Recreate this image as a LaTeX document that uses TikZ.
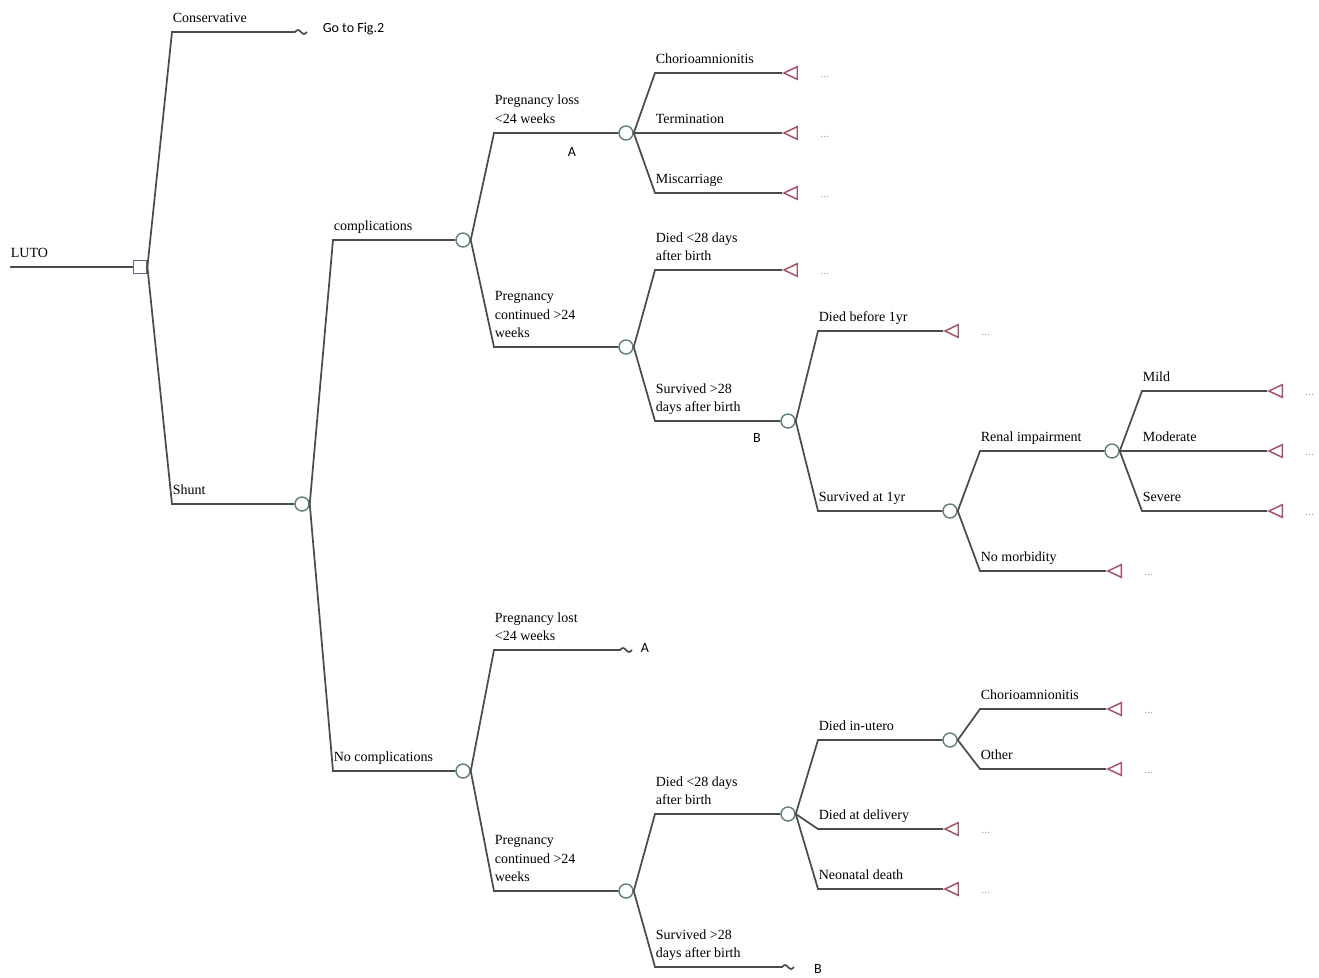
\documentclass[tikz,border=0pt]{standalone}
\usepackage{fontspec}
\setmainfont{Liberation Serif}
\newfontfamily\refont{Carlito}
\usetikzlibrary{shapes.geometric}
\definecolor{branchgray}{RGB}{75,75,75}
\definecolor{chancegreen}{RGB}{100,130,115}
\definecolor{decisionblue}{RGB}{90,105,130}
\definecolor{termred}{RGB}{165,80,100}
\begin{document}
\begin{tikzpicture}[x=0.75pt, y=-0.75pt, line width=1.3pt, draw=branchgray,
  chance/.style={circle,draw=chancegreen,fill=white,line width=1.1pt,minimum size=10.5pt,inner sep=0pt},
  decision/.style={rectangle,draw=decisionblue,fill=white,line width=1.1pt,minimum size=10pt,inner sep=0pt},
  term/.style={isosceles triangle,isosceles triangle stretches,shape border rotate=180,draw=termred,line width=1.1pt,minimum height=10pt,minimum width=9.5pt,inner sep=0pt,anchor=apex},
  lab/.style={anchor=base west,inner sep=0pt,align=left,yshift=7pt,font=\fontsize{10.5}{14}\selectfont},
  dots/.style={text=gray!75,inner sep=0pt,font=\fontsize{8.5}{9}\selectfont},
  refl/.style={inner sep=0pt,font=\refont\fontsize{10.5}{12}\selectfont}]
\useasboundingbox (0,0) rectangle (1319,977);
% corners of the branches
\coordinate (luto) at (10,267);
\coordinate (cCons) at (172,32);
\coordinate (cConsEnd) at (295,32);
\coordinate (cShunt) at (172,504);
\coordinate (cComp) at (333,240);
\coordinate (cNoComp) at (333,771);
\coordinate (cLoss) at (494,133);
\coordinate (cCont) at (494,347);
\coordinate (cChorio) at (655,73);
\coordinate (cTerm) at (655,133);
\coordinate (cMisc) at (655,193);
\coordinate (cDied) at (655,270);
\coordinate (cSurv) at (655,421);
\coordinate (cDied1yr) at (818,331);
\coordinate (cSurv1yr) at (818,511);
\coordinate (cRenal) at (980,451);
\coordinate (cNoMorb) at (980,571);
\coordinate (cMild) at (1142,391);
\coordinate (cMod) at (1142,451);
\coordinate (cSev) at (1142,511);
\coordinate (cLost) at (494,650);
\coordinate (cLostEnd) at (620,650);
\coordinate (cContB) at (494,891);
\coordinate (cDiedB) at (655,814);
\coordinate (cSurvB) at (655,967);
\coordinate (cSurvBEnd) at (782,967);
\coordinate (cUtero) at (818,740);
\coordinate (cDeliv) at (818,829);
\coordinate (cNeo) at (818,889);
\coordinate (cChorioB) at (980,709);
\coordinate (cOther) at (980,769);
\begin{scope}
\node[decision] (d0) at (140,267) {};
\node[chance] (n1) at (302,504) {};
\node[chance] (n2) at (463,240) {};
\node[chance] (n3) at (463,771) {};
\node[chance] (n4) at (626,133) {};
\node[chance] (n5) at (626,347) {};
\node[chance] (n6) at (788,421) {};
\node[chance] (n7) at (950,511) {};
\node[chance] (n8) at (1112,451) {};
\node[chance] (n9) at (626,891) {};
\node[chance] (n10) at (788,814) {};
\node[chance] (n11) at (950,740) {};
\node[term] (t1) at (782,73) {};
\node[term] (t2) at (782,133) {};
\node[term] (t3) at (782,193) {};
\node[term] (t4) at (782,270) {};
\node[term] (t5) at (943,331) {};
\node[term] (t6) at (1106,571) {};
\node[term] (t7) at (1267,391) {};
\node[term] (t8) at (1267,451) {};
\node[term] (t9) at (1267,511) {};
\node[term] (t10) at (943,829) {};
\node[term] (t11) at (943,889) {};
\node[term] (t12) at (1106,709) {};
\node[term] (t13) at (1106,769) {};
\end{scope}
\begin{scope}[every path/.style={draw=branchgray}]
\draw (luto) -- (d0.west);
\draw (d0.east) -- (cCons) -- (cConsEnd) sin ++(3,-2) cos ++(3,2) sin ++(3,2) cos ++(3,-2);
\draw (d0.east) -- (cShunt) -- (n1.west);
\draw (n1.east) -- (cComp) -- (n2.west);
\draw (n1.east) -- (cNoComp) -- (n3.west);
\draw (n2.east) -- (cLoss) -- (n4.west);
\draw (n2.east) -- (cCont) -- (n5.west);
\draw (n4.east) -- (cChorio) -- (t1.apex);
\draw (n4.east) -- (cTerm) -- (t2.apex);
\draw (n4.east) -- (cMisc) -- (t3.apex);
\draw (n5.east) -- (cDied) -- (t4.apex);
\draw (n5.east) -- (cSurv) -- (n6.west);
\draw (n6.east) -- (cDied1yr) -- (t5.apex);
\draw (n6.east) -- (cSurv1yr) -- (n7.west);
\draw (n7.east) -- (cRenal) -- (n8.west);
\draw (n7.east) -- (cNoMorb) -- (t6.apex);
\draw (n8.east) -- (cMild) -- (t7.apex);
\draw (n8.east) -- (cMod) -- (t8.apex);
\draw (n8.east) -- (cSev) -- (t9.apex);
\draw (n3.east) -- (cLost) -- (cLostEnd) sin ++(3,-2) cos ++(3,2) sin ++(3,2) cos ++(3,-2);
\draw (n3.east) -- (cContB) -- (n9.west);
\draw (n9.east) -- (cDiedB) -- (n10.west);
\draw (n9.east) -- (cSurvB) -- (cSurvBEnd) sin ++(3,-2) cos ++(3,2) sin ++(3,2) cos ++(3,-2);
\draw (n10.east) -- (cUtero) -- (n11.west);
\draw (n10.east) -- (cDeliv) -- (t10.apex);
\draw (n10.east) -- (cNeo) -- (t11.apex);
\draw (n11.east) -- (cChorioB) -- (t12.apex);
\draw (n11.east) -- (cOther) -- (t13.apex);
\end{scope}
% branch labels
\node[lab] (lLuto) at (luto) {LUTO};
\node[lab] (lCons) at (cCons) {Conservative};
\node[lab] (lShunt) at (cShunt) {Shunt};
\node[lab] (lComp) at (cComp) {complications};
\node[lab] (lNoComp) at (cNoComp) {No complications};
\node[lab] (lLoss) at (cLoss) {Pregnancy loss\\<24 weeks};
\node[lab] (lCont) at (cCont) {Pregnancy\\continued >24\\weeks};
\node[lab] (lChorio) at (cChorio) {Chorioamnionitis};
\node[lab] (lTerm) at (cTerm) {Termination};
\node[lab] (lMisc) at (cMisc) {Miscarriage};
\node[lab] (lDied) at (cDied) {Died <28 days\\after birth};
\node[lab] (lSurv) at (cSurv) {Survived >28\\days after birth};
\node[lab] (lDied1yr) at (cDied1yr) {Died before 1yr};
\node[lab] (lSurv1yr) at (cSurv1yr) {Survived at 1yr};
\node[lab] (lRenal) at (cRenal) {Renal impairment};
\node[lab] (lNoMorb) at (cNoMorb) {No morbidity};
\node[lab] (lMild) at (cMild) {Mild};
\node[lab] (lMod) at (cMod) {Moderate};
\node[lab] (lSev) at (cSev) {Severe};
\node[lab] (lLost) at (cLost) {Pregnancy lost\\<24 weeks};
\node[lab] (lContB) at (cContB) {Pregnancy\\continued >24\\weeks};
\node[lab] (lDiedB) at (cDiedB) {Died <28 days\\after birth};
\node[lab] (lSurvB) at (cSurvB) {Survived >28\\days after birth};
\node[lab] (lUtero) at (cUtero) {Died in-utero};
\node[lab] (lDeliv) at (cDeliv) {Died at delivery};
\node[lab] (lNeo) at (cNeo) {Neonatal death};
\node[lab] (lChorioB) at (cChorioB) {Chorioamnionitis};
\node[lab] (lOther) at (cOther) {Other};
% references
\node[refl,anchor=west] (rFig) at (322,29) {Go to Fig.2};
\node[refl] (rA1) at (572,152) {A};
\node[refl] (rA2) at (645,648) {A};
\node[refl] (rB1) at (757,438) {B};
\node[refl] (rB2) at (818,969) {B};
% pay-offs
\foreach \t in {t1,t2,t3,t4,t5,t6,t7,t8,t9,t10,t11,t12,t13}
  \node[dots] at ([xshift=32pt,yshift=-3pt]\t.apex) {...};
\end{tikzpicture}
\end{document}
